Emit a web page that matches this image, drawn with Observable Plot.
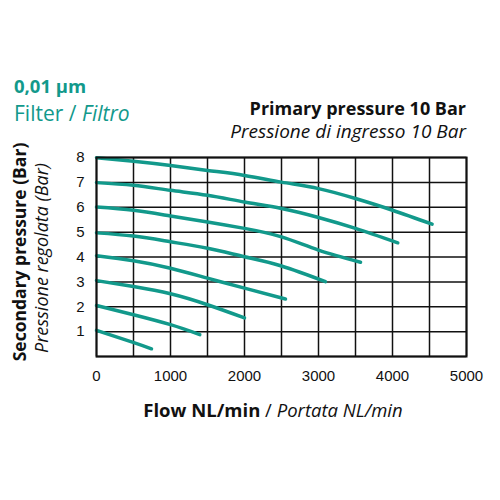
<!DOCTYPE html>
<html><head><meta charset="utf-8">
<script src="https://cdn.jsdelivr.net/npm/d3@7"></script>
<script src="https://cdn.jsdelivr.net/npm/@observablehq/plot@0.6"></script>
<style>body{margin:0;background:#fff;} #c{position:relative;width:500px;height:500px;}</style>
</head><body><div id="c"></div>
<script>
const xTicks = [0, 1000, 2000, 3000, 4000, 5000];
const yTicks = [1, 2, 3, 4, 5, 6, 7, 8];
const xGrid = [0, 500, 1000, 1500, 2000, 2500, 3000, 3500, 4000, 4500, 5000];
const yGrid = [0, 1, 2, 3, 4, 5, 6, 7, 8];
const setpoints = [1, 2, 3, 4, 5, 6, 7, 8];
const flow1 = [0, 495, 743];
const press1 = [1.05, 0.57, 0.31];
const flow2 = [0, 500, 1000, 1396];
const press2 = [2.05, 1.68, 1.28, 0.88];
const flow3 = [0, 500, 1000, 1500, 2000];
const press3 = [3.05, 2.81, 2.52, 2.08, 1.55];
const flow4 = [0, 500, 1000, 1500, 2000, 2554];
const press4 = [4.05, 3.85, 3.55, 3.15, 2.75, 2.31];
const flow5 = [0, 500, 1000, 1500, 2000, 2500, 3094];
const press5 = [4.97, 4.84, 4.61, 4.35, 4.01, 3.64, 3.01];
const flow6 = [0, 500, 1000, 1500, 2000, 2500, 3000, 3568];
const press6 = [6.01, 5.88, 5.65, 5.41, 5.15, 4.81, 4.28, 3.79];
const flow7 = [0, 500, 1000, 1500, 2000, 2500, 3000, 3500, 4071];
const press7 = [6.99, 6.88, 6.68, 6.48, 6.21, 5.95, 5.59, 5.15, 4.57];
const flow8 = [0, 500, 1000, 1500, 2000, 2500, 3000, 3500, 4000, 4535];
const press8 = [7.99, 7.85, 7.68, 7.48, 7.28, 7.01, 6.75, 6.35, 5.88, 5.32];

const flows = [flow1, flow2, flow3, flow4, flow5, flow6, flow7, flow8];
const presses = [press1, press2, press3, press4, press5, press6, press7, press8];
const rows = [];
setpoints.forEach((s, i) => flows[i].forEach((f, j) => rows.push({s, flow: f, p: presses[i][j]})));

const teal = "#12998b";
const chart = Plot.plot({
  width: 500, height: 500,
  marginLeft: 96, marginRight: 34, marginTop: 157, marginBottom: 144,
  style: {fontFamily: "Liberation Sans, Arial, sans-serif", fontSize: "15px", color: "#111", background: "transparent"},
  x: {domain: [0, 5000], ticks: xTicks, tickSize: 0, tickPadding: 14, label: null, tickFormat: d => String(d)},
  y: {domain: [0, 8], ticks: yTicks, tickSize: 0, tickPadding: 12, label: null},
  marks: [
    Plot.ruleX(xGrid, {stroke: "#111", strokeWidth: 1.5}),
    Plot.ruleY(yGrid, {stroke: "#111", strokeWidth: 1.5}),
    Plot.line(rows, {x: "flow", y: "p", z: "s", stroke: teal, strokeWidth: 3.5, curve: "natural"}),
    Plot.frame({stroke: "#111", strokeWidth: 2})
  ]
});
document.getElementById("c").appendChild(chart);
const svg = d3.select(chart);
const tf = "'Open Sans', Lato, sans-serif";
function txt(x, y, parts, anchor, rot) {
  const t = svg.append("text").attr("x", x).attr("y", y).attr("text-anchor", anchor || "start")
    .style("font-family", tf);
  if (rot) t.attr("transform", `rotate(-90 ${x} ${y})`);
  parts.forEach(p => {
    const ts = t.append("tspan").text(p.t).attr("fill", p.c || "#111").style("font-size", (p.s || 17) + "px");
    if (p.b) ts.style("font-weight", p.b);
    if (p.i) ts.style("font-style", "italic");
  });
}
txt(14, 93, [{t: "0,01 µm", c: teal, b: 700, s: 18.5}]);
txt(14, 121, [{t: "Filter / ", c: teal, s: 21, b: 400}, {t: "Filtro", c: teal, s: 21, i: true, b: 400}]);
txt(466, 115, [{t: "Primary pressure 10 Bar", b: 700, s: 18}], "end");
txt(466, 138, [{t: "Pressione di ingresso 10 Bar", i: true, s: 19}], "end");
txt(26, 252, [{t: "Secondary pressure (Bar)", b: 700, s: 17.5}], "middle", true);
txt(48, 258, [{t: "Pressione regolata (Bar)", i: true, s: 18}], "middle", true);
txt(273, 417, [{t: "Flow NL/min", b: 700, s: 18.5}, {t: " / ", s: 18.5}, {t: "Portata NL/min", i: true, s: 18.5}], "middle");
</script></body></html>
